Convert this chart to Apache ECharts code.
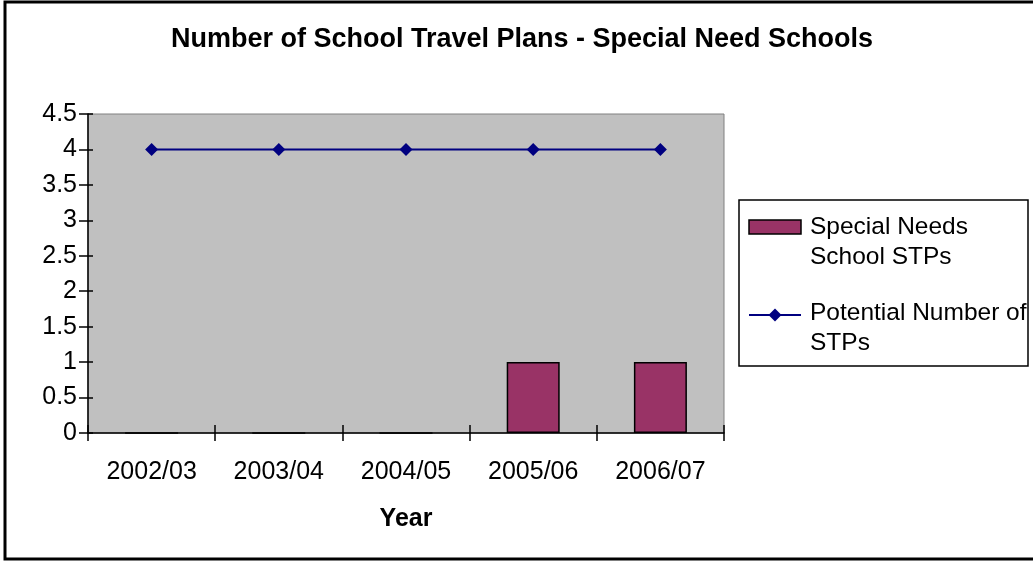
<!DOCTYPE html>
<html>
<head>
<meta charset="utf-8">
<script src="https://cdn.jsdelivr.net/npm/echarts@6/dist/echarts.min.js"></script>
<style>
html,body{margin:0;padding:0;background:#fff;}
#chart{width:1033px;height:563px;}
</style>
</head>
<body>
<div id="chart"></div>
<script>
const categories = ['2002/03', '2003/04', '2004/05', '2005/06', '2006/07'];
const schoolSTPs = [0, 0, 0, 1, 1];
const potentialSTPs = [4, 4, 4, 4, 4];
const seriesNames = ['Special Needs School STPs', 'Potential Number of STPs'];
const legendLines = [['Special Needs', 'School STPs'], ['Potential Number of', 'STPs']];
const titleText = 'Number of School Travel Plans - Special Need Schools';
const xName = 'Year';

const FONT = '"Liberation Sans", Arial, Helvetica, sans-serif';
const chart = echarts.init(document.getElementById('chart'), null, {renderer: 'canvas'});

const yCommon = {type: 'value', min: 0, max: 4.5, interval: 0.5, position: 'left'};

const option = {
  animation: false,
  backgroundColor: '#ffffff',
  title: {
    text: titleText,
    left: 517,
    textAlign: 'center',
    top: 21,
    textStyle: {fontFamily: FONT, fontWeight: 'bold', fontSize: 27, color: '#000'}
  },
  grid: {
    left: 88, right: 309, top: 114, bottom: 130,
    show: true, backgroundColor: '#C0C0C0', borderColor: '#808080', borderWidth: 1
  },
  xAxis: [{
    type: 'category', data: categories, position: 'bottom',
    boundaryGap: true,
    name: xName, nameLocation: 'middle', nameGap: 74,
    nameTextStyle: {fontFamily: FONT, fontWeight: 'bold', fontSize: 25, color: '#000'},
    axisLine: {show: true, lineStyle: {color: '#000', width: 1.5}},
    axisTick: {show: true, inside: false, length: 8, lineStyle: {color: '#000', width: 1.5}},
    axisLabel: {fontFamily: FONT, fontSize: 25, color: '#000', margin: 27},
    splitLine: {show: false}
  }, {
    type: 'category', data: categories, position: 'bottom',
    boundaryGap: true,
    axisLine: {show: false},
    axisTick: {show: true, inside: true, length: 8, lineStyle: {color: '#000', width: 1.5}},
    axisLabel: {show: false},
    splitLine: {show: false}
  }],
  yAxis: [Object.assign({}, yCommon, {
    axisLine: {show: true, lineStyle: {color: '#000', width: 1.5}},
    axisTick: {show: true, inside: false, length: 9, lineStyle: {color: '#000', width: 1.5}},
    axisLabel: {fontFamily: FONT, fontSize: 25, color: '#000', margin: 11},
    splitLine: {show: false}
  }), Object.assign({}, yCommon, {
    axisLine: {show: false},
    axisTick: {show: true, inside: true, length: 5, lineStyle: {color: '#000', width: 1.5}},
    axisLabel: {show: false},
    splitLine: {show: false}
  })],
  legend: {show: false},
  series: [{
    name: seriesNames[0], type: 'bar', data: schoolSTPs,
    xAxisIndex: 0, yAxisIndex: 0,
    barWidth: 53,
    itemStyle: {color: '#993366', borderColor: '#000', borderWidth: 1.5}
  }, {
    name: seriesNames[1], type: 'line', data: potentialSTPs,
    xAxisIndex: 0, yAxisIndex: 0,
    symbol: 'diamond', symbolSize: 13,
    lineStyle: {color: '#000080', width: 2},
    itemStyle: {color: '#000080'}
  }],
  graphic: [
    {type: 'rect', shape: {x: 5, y: 2, width: 1040, height: 557}, style: {fill: 'none', stroke: '#000', lineWidth: 3}, z: 100},
    {type: 'rect', shape: {x: 739, y: 200, width: 289, height: 166}, style: {fill: '#fff', stroke: '#000', lineWidth: 1.5}, z: 100},
    {type: 'rect', shape: {x: 749, y: 220, width: 52, height: 14}, style: {fill: '#993366', stroke: '#000', lineWidth: 1.5}, z: 101},
    {type: 'text', x: 810, y: 212, style: {text: legendLines[0].join('\n'), font: '24.5px ' + FONT, fill: '#000', verticalAlign: 'top', lineHeight: 30}, z: 101},
    {type: 'line', shape: {x1: 749, y1: 315, x2: 801, y2: 315}, style: {stroke: '#000080', lineWidth: 2}, z: 101},
    {type: 'polygon', shape: {points: [[775, 308.5], [781.5, 315], [775, 321.5], [768.5, 315]]}, style: {fill: '#000080'}, z: 102},
    {type: 'text', x: 810, y: 298, style: {text: legendLines[1].join('\n'), font: '24.5px ' + FONT, fill: '#000', verticalAlign: 'top', lineHeight: 30}, z: 101}
  ]
};
chart.setOption(option);
</script>
</body>
</html>
